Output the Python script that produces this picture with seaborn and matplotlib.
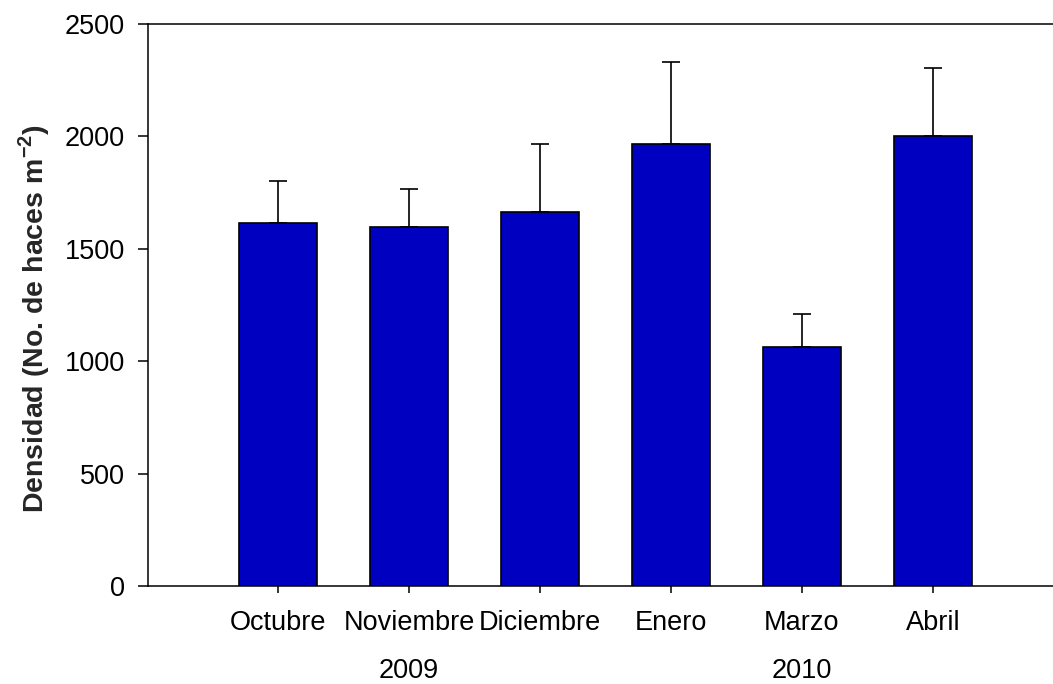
import matplotlib
matplotlib.use("Agg")
import matplotlib.pyplot as plt
import matplotlib.transforms as mtransforms
import seaborn as sns
import numpy as np

# Monthly seagrass shoot density with standard error (upper bars only)
meses = ["Octubre", "Noviembre", "Diciembre", "Enero", "Marzo", "Abril"]
densidad = [1616, 1598, 1665, 1967, 1065, 2003]
error_sup = [185, 167, 301, 364, 144, 301]
anios = ["2009", "2010"]
anio_pos = [1, 4]
y_ticks = [0, 500, 1000, 1500, 2000, 2500]

sns.set_style("white")
plt.rcParams["font.family"] = ["Liberation Sans", "DejaVu Sans"]
plt.rcParams["mathtext.fontset"] = "custom"
plt.rcParams["mathtext.rm"] = "Liberation Sans"
plt.rcParams["mathtext.bf"] = "Liberation Sans:bold"

FS = 19.5

fig = plt.figure(figsize=(10.53, 6.84), dpi=100)
ax = fig.add_axes([148 / 1053, 1 - 586 / 684, 1 - 148 / 1053, (586 - 24) / 684])

sns.barplot(x=meses, y=densidad, color="#0000C0", saturation=1,
            edgecolor="black", linewidth=1.2, width=0.6, ax=ax, zorder=2)

x = np.arange(len(meses))
ax.errorbar(x, densidad, yerr=[np.zeros(len(meses)), error_sup], fmt="none",
            ecolor="black", elinewidth=1.2, capsize=6.5, capthick=1.2, zorder=1)

ax.set_ylim(0, 2500)
ax.set_xlim(-0.992, 5.916)
ax.set_yticks(y_ticks)
ax.set_yticklabels([str(v) for v in y_ticks])

for side in ["top", "left", "bottom"]:
    ax.spines[side].set_visible(True)
    ax.spines[side].set_color("black")
    ax.spines[side].set_linewidth(1.1)
ax.spines["right"].set_visible(False)

ax.tick_params(axis="y", direction="out", length=7.5, width=1.1, pad=9,
               labelsize=FS, left=True, colors="black")
ax.tick_params(axis="x", direction="out", length=5, width=1.1, pad=12,
               labelsize=FS, bottom=True, colors="black")

ax.set_xlabel("")
ax.set_ylabel(r"Densidad (No. de haces m$^{\mathbf{-2}}$)", fontsize=20.5,
              fontweight="bold")
ax.yaxis.set_label_coords(-0.106, 0.475)

trans = mtransforms.blended_transform_factory(ax.transData, ax.transAxes)
for pos, txt in zip(anio_pos, anios):
    ax.text(pos, (586 - 678) / 562, txt, transform=trans, ha="center",
            va="baseline", fontsize=FS, color="black")

fig.savefig("out.png", dpi=100)
